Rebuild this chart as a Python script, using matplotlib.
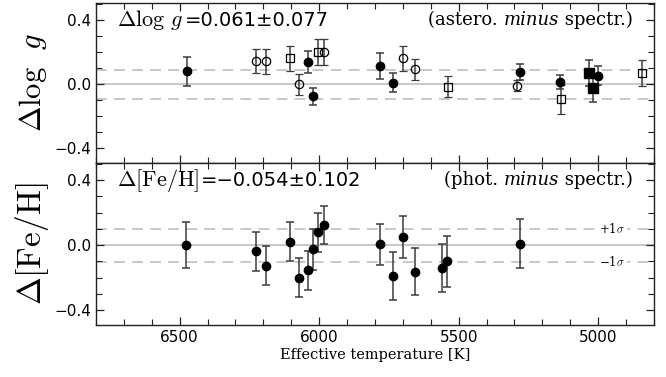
import numpy as np
import matplotlib
matplotlib.use('Agg')
import matplotlib.pyplot as plt
from matplotlib.ticker import MultipleLocator

plt.rcParams['mathtext.fontset'] = 'cm'

# --- top panel: asteroseismic minus spectroscopic log g ---
teff_logg = [6474, 6226, 6191, 6106, 6071, 6040, 6021, 6004, 5984, 5781, 5737,
             5700, 5657, 5537, 5291, 5280, 5136, 5132, 5032, 5019, 5001, 4842]
dlogg = [0.080, 0.143, 0.143, 0.160, 0.000, 0.139, -0.076, 0.200, 0.200, 0.113, 0.010,
         0.160, 0.092, -0.015, -0.010, 0.076, 0.014, -0.095, 0.071, -0.027, 0.053, 0.071]
dlogg_err = [0.090, 0.075, 0.078, 0.080, 0.066, 0.070, 0.054, 0.083, 0.083, 0.082, 0.057,
             0.076, 0.065, 0.063, 0.035, 0.052, 0.042, 0.092, 0.082, 0.086, 0.058, 0.080]
# fc = filled circle, oc = open circle, os = open square, fs = filled square
logg_kind = ['fc', 'oc', 'oc', 'os', 'oc', 'fc', 'fc', 'os', 'oc', 'fc', 'fc',
             'oc', 'oc', 'os', 'oc', 'fc', 'fc', 'os', 'fs', 'fs', 'fc', 'os']
logg_sigma = 0.09

# --- bottom panel: photometric minus spectroscopic [Fe/H] ---
teff_feh = [6476, 6226, 6191, 6105, 6071, 6041, 6021, 6005, 5981,
            5781, 5736, 5701, 5655, 5560, 5541, 5280]
dfeh = [0.002, -0.039, -0.125, 0.020, -0.200, -0.154, -0.025, 0.078, 0.123,
        0.006, -0.189, 0.051, -0.162, -0.141, -0.100, 0.010]
dfeh_err = [0.142, 0.117, 0.119, 0.119, 0.119, 0.121, 0.126, 0.121, 0.119,
            0.126, 0.145, 0.130, 0.142, 0.148, 0.159, 0.152]
feh_sigma = 0.102

styles = {
    'fc': dict(marker='o', ms=6, mfc='black', mec='black'),
    'oc': dict(marker='o', ms=6, mfc='none', mec='black', mew=0.9),
    'os': dict(marker='s', ms=5.5, mfc='none', mec='black', mew=0.9),
    'fs': dict(marker='s', ms=6.5, mfc='black', mec='black'),
}
ebar_col = '#3c3c3c'
ref_col = '#c4c4c4'

fig = plt.figure(figsize=(6.66, 3.77), dpi=100)
ax1 = fig.add_axes([0.144, 0.568, 0.838, 0.424])
ax2 = fig.add_axes([0.144, 0.138, 0.838, 0.430])


def style_axis(ax):
    ax.set_xlim(6800, 4800)
    ax.set_ylim(-0.49, 0.505)
    ax.xaxis.set_major_locator(MultipleLocator(500))
    ax.xaxis.set_minor_locator(MultipleLocator(100))
    ax.yaxis.set_major_locator(MultipleLocator(0.4))
    ax.yaxis.set_minor_locator(MultipleLocator(0.1))
    ax.tick_params(which='both', direction='in', top=True, right=True,
                   labelsize=11, color='#222222')
    ax.tick_params(which='major', length=6, width=0.9)
    ax.tick_params(which='minor', length=4, width=0.8)
    for sp in ax.spines.values():
        sp.set_color('#222222')
        sp.set_linewidth(1.0)
    ax.yaxis.set_major_formatter(plt.FuncFormatter(
        lambda v, p: f'{v:.1f}'.replace('-', '\u2212')))


def ref_lines(ax, sig):
    ax.axhline(0, color=ref_col, lw=1.3, zorder=1)
    for s in (sig, -sig):
        ax.axhline(s, color=ref_col, lw=1.3, ls=(0, (6, 4)), zorder=1)


def stat_label(ax, y, mathpart, numpart):
    # serif symbol followed by sans-serif numbers on the same baseline
    t = ax.text(0.038, y, mathpart, transform=ax.transAxes, fontsize=16,
                va='baseline', ha='left')
    ax.annotate(numpart, xy=(1, y), xycoords=(t, ax.transAxes), xytext=(1, 0),
                textcoords='offset points', fontsize=14, va='baseline',
                ha='left', family='DejaVu Sans')


def minus_label(ax, y, left, right):
    # "(xxx. minus spectr.)" with italic middle word, right aligned
    r = ax.text(0.962, y, right, transform=ax.transAxes, fontsize=13,
                va='bottom', ha='right', family='DejaVu Serif')
    m = ax.annotate('minus', xy=(0, 0), xycoords=r, fontsize=13,
                    va='bottom', ha='right', family='DejaVu Serif', style='italic')
    ax.annotate(left, xy=(0, 0), xycoords=m, fontsize=13,
                va='bottom', ha='right', family='DejaVu Serif')


# top panel
style_axis(ax1)
ref_lines(ax1, logg_sigma)
for t, d, e, k in zip(teff_logg, dlogg, dlogg_err, logg_kind):
    ax1.errorbar(t, d, yerr=e, ls='none', ecolor=ebar_col, elinewidth=1.1,
                 capsize=3, capthick=1.1, zorder=3, **styles[k])
ax1.tick_params(labelbottom=False)
ax1.set_ylabel(r'$\Delta\mathrm{log}\ \ g$', fontsize=22, labelpad=4)
stat_label(ax1, 0.855, r'$\Delta\mathrm{log}\ g$', '=0.061\u00b10.077')
minus_label(ax1, 0.835, '(astero. ', ' spectr.)')

# bottom panel
style_axis(ax2)
ref_lines(ax2, feh_sigma)
ax2.errorbar(teff_feh, dfeh, yerr=dfeh_err, ls='none', ecolor=ebar_col,
             elinewidth=1.1, capsize=3, capthick=1.1, zorder=3, **styles['fc'])
ax2.set_ylabel(r'$\Delta\mathrm{[Fe/H]}$', fontsize=24, labelpad=2)
stat_label(ax2, 0.86, r'$\Delta\mathrm{[Fe/H]}$', '=\u22120.054\u00b10.102')
minus_label(ax2, 0.84, '(phot. ', ' spectr.)')
for s, lab in ((feh_sigma, '+1$\\sigma$'), (-feh_sigma, '\u22121$\\sigma$')):
    ax2.text(4950, s, lab, fontsize=8.5, ha='center', va='center',
             family='DejaVu Serif',
             bbox=dict(facecolor='white', edgecolor='none', pad=1))
ax2.set_xlabel('Effective temperature [K]', fontsize=10.5, family='DejaVu Serif',
               labelpad=2)

fig.savefig('out.png', dpi=100)
